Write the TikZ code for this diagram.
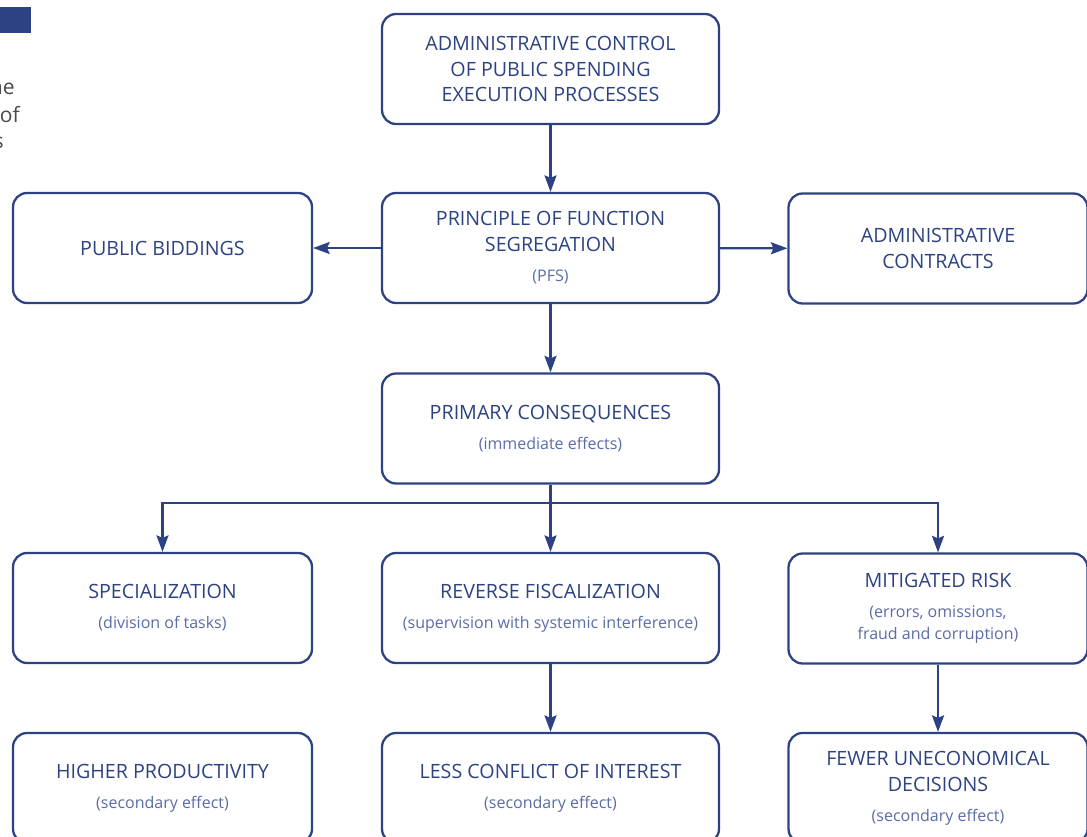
\documentclass[tikz,border=0pt]{standalone}
\usepackage{fontspec}
\setmainfont{Open Sans}
\usetikzlibrary{arrows.meta}
\definecolor{pfsblue}{HTML}{2C4282}
\definecolor{pfslight}{HTML}{5A6CA6}
\definecolor{pagegray}{HTML}{4A4A4A}
\newcommand{\effect}[1]{{\color{pfslight}\fontsize{9.1}{12}\selectfont #1}}

\begin{document}
\begin{tikzpicture}[x=0.02cm,y=-0.02cm,
  box/.style={draw=pfsblue,line width=1.3pt,rounded corners=0.28cm,text=pfsblue,align=center,
    minimum width=6.74cm,minimum height=2.2cm,inner sep=0pt,font=\fontsize{11.2}{14.7}\selectfont},
  sidebox/.style={box,minimum width=5.98cm},
  link/.style={draw=pfsblue,line width=1.3pt,-{Stealth[length=0.33cm,width=0.24cm,inset=0.05cm]}},
  wire/.style={draw=pfsblue,line width=1.3pt}]

\useasboundingbox (0,0) rectangle (1087,837);
\clip (0,0) rectangle (1087,837);

\fill[pfsblue] (0,7) rectangle (31,33);
\node[anchor=east,text=pagegray,font=\fontsize{12}{14}\selectfont,inner sep=0pt] (frag1) at (15,87) {he};
\node[anchor=east,text=pagegray,font=\fontsize{12}{14}\selectfont,inner sep=0pt] (frag2) at (20,115) {of};
\node[anchor=east,text=pagegray,font=\fontsize{12}{14}\selectfont,inner sep=0pt] (frag3) at (4,143) {s};

\node[box] (top) at (550.5,69) {ADMINISTRATIVE CONTROL\\OF PUBLIC SPENDING\\EXECUTION PROCESSES};
\node[box] (pfs) at (550.5,248) {PRINCIPLE OF FUNCTION\\SEGREGATION\\[2.5pt]\effect{(PFS)}};
\node[sidebox] (bid) at (162.5,248) {PUBLIC BIDDINGS};
\node[sidebox] (contracts) at (938,248.5) {ADMINISTRATIVE\\CONTRACTS};
\node[box] (primary) at (550.5,428.5) {PRIMARY CONSEQUENCES\\[2.5pt]\effect{(immediate effects)}};

\node[sidebox] (spec) at (162.5,608) {SPECIALIZATION\\[2.5pt]\effect{(division of tasks)}};
\node[box] (reverse) at (550.5,608) {REVERSE FISCALIZATION\\[2.5pt]\effect{(supervision with systemic interference)}};
\node[sidebox] (risk) at (938,608.5) {MITIGATED RISK\\[2pt]\effect{(errors, omissions,}\\[-2pt]\effect{fraud and corruption)}};

\node[sidebox] (higher) at (162.5,788) {HIGHER PRODUCTIVITY\\[2.5pt]\effect{(secondary effect)}};
\node[box] (less) at (550.5,788) {LESS CONFLICT OF INTEREST\\[2.5pt]\effect{(secondary effect)}};
\node[sidebox] (fewer) at (938,788) {FEWER UNECONOMICAL\\DECISIONS\\[2.5pt]\effect{(secondary effect)}};

\coordinate (split) at (550.5,503);

\draw[link] (top) -- (pfs);
\draw[link] (pfs) -- (bid);
\draw[link] (pfs) -- (contracts);
\draw[link] (pfs) -- (primary);
\draw[wire] (primary) -- (split);
\draw[link] (split) -| (spec.north);
\draw[link] (split) -- (reverse);
\draw[link] (split) -| (risk.north);
\draw[link] (reverse) -- (less);
\draw[link] (risk) -- (fewer);
\end{tikzpicture}
\end{document}
